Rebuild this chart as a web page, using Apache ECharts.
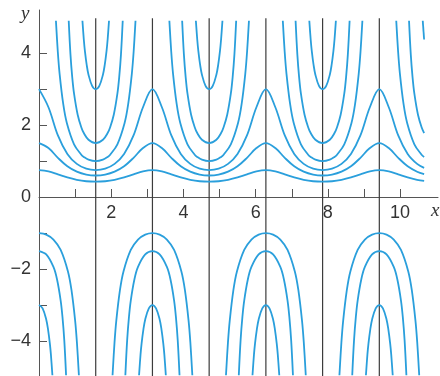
<!DOCTYPE html>
<html>
<head>
<meta charset="utf-8">
<script src="https://cdn.jsdelivr.net/npm/echarts@6/dist/echarts.min.js"></script>
<style>
  html, body { margin: 0; padding: 0; background: #fff; }
  #chart { width: 440px; height: 376px; }
</style>
</head>
<body>
<div id="chart"></div>
<script>
/* ---------- ticks and labels ---------- */
const xTicks  = [1, 2, 3, 4, 5, 6, 7, 8, 9, 10];
const xLabels = [2, 4, 6, 8, 10];
const yTicks  = [-4, -3, -2, -1, 1, 2, 3, 4];
const yLabels = [-4, -2, 0, 2, 4];

// black vertical lines (pi/2 steps)
const asymptotes = [1.5708, 3.1416, 4.7124, 6.2832, 7.854, 9.4248];

/* ---------- bounded waves above the axis ---------- */
const xEnd = 10.67;
const waveX = [0, 0.2618, 0.5236, 0.7854, 1.0472, 1.309, 1.5708, 1.8326, 2.0944, 2.3562, 2.618, 2.8798,
  3.1416, 3.4034, 3.6652, 3.927, 4.1888, 4.4506, 4.7124, 4.9742, 5.236, 5.4978, 5.7596, 6.0214,
  6.2832, 6.545, 6.8068, 7.0686, 7.3304, 7.5922, 7.854, 8.1158, 8.3776, 8.6394, 8.9012, 9.163,
  9.4248, 9.6866, 9.9484, 10.2102, 10.472, 10.666];
const waveLow = [0.75, 0.714, 0.632, 0.545, 0.48, 0.441, 0.429, 0.441, 0.48, 0.545, 0.632, 0.714,
  0.75, 0.714, 0.632, 0.545, 0.48, 0.441, 0.429, 0.441, 0.48, 0.545, 0.632, 0.714,
  0.75, 0.714, 0.632, 0.545, 0.48, 0.441, 0.429, 0.441, 0.48, 0.545, 0.632, 0.714,
  0.75, 0.714, 0.632, 0.545, 0.48, 0.449];
const waveMid = [1.5, 1.363, 1.091, 0.857, 0.706, 0.625, 0.6, 0.625, 0.706, 0.857, 1.091, 1.363,
  1.5, 1.363, 1.091, 0.857, 0.706, 0.625, 0.6, 0.625, 0.706, 0.857, 1.091, 1.363,
  1.5, 1.363, 1.091, 0.857, 0.706, 0.625, 0.6, 0.625, 0.706, 0.857, 1.091, 1.363,
  1.5, 1.363, 1.091, 0.857, 0.706, 0.64];
const waveHigh = [3, 2.498, 1.714, 1.2, 0.923, 0.79, 0.75, 0.79, 0.923, 1.2, 1.714, 2.498,
  3, 2.498, 1.714, 1.2, 0.923, 0.79, 0.75, 0.79, 0.923, 1.2, 1.714, 2.498,
  3, 2.498, 1.714, 1.2, 0.923, 0.79, 0.75, 0.79, 0.923, 1.2, 1.714, 2.498,
  3, 2.498, 1.714, 1.2, 0.923, 0.814];

/* ---------- U branches above the axis (offset from centre, value) ---------- */
const upCentres = [1.5708, 4.7124, 7.854, 10.9956];
const upOff1 = [0, 0.2, 0.33, 0.4, 0.6, 0.8, 0.9, 1.0, 1.05, 1.102];
const upVal1 = [1, 1.041, 1.117, 1.179, 1.468, 2.06, 2.588, 3.426, 4.039, 4.9];
const upOff2 = [0, 0.2, 0.33, 0.4, 0.5, 0.6, 0.65, 0.7, 0.748];
const upVal2 = [1.5, 1.594, 1.78, 1.942, 2.289, 2.875, 3.329, 3.974, 4.9];
const upOff3 = [0, 0.1, 0.2, 0.25, 0.3, 0.33, 0.368];
const upVal3 = [3, 3.092, 3.403, 3.675, 4.065, 4.38, 4.9];

/* ---------- arches below the axis ---------- */
const downCentres = [0, 3.1416, 6.2832, 9.4248];
const dnOff1 = [0, 0.2, 0.4, 0.6, 0.8, 0.9, 1.0, 1.05, 1.105];
const dnVal1 = [-1, -1.041, -1.179, -1.468, -2.06, -2.588, -3.426, -4.039, -4.95];
const dnOff2 = [0, 0.2, 0.4, 0.5, 0.6, 0.65, 0.7, 0.75];
const dnVal2 = [-1.5, -1.594, -1.942, -2.289, -2.875, -3.329, -3.974, -4.95];
const dnOff3 = [0, 0.1, 0.2, 0.25, 0.3, 0.33, 0.371];
const dnVal3 = [-3, -3.092, -3.403, -3.675, -4.065, -4.38, -4.95];

const blue = '#2a9fdc';

function arch(offsets, values, centre) {
  const pts = [];
  for (let i = offsets.length - 1; i > 0; i--) pts.push([centre - offsets[i], values[i]]);
  for (let i = 0; i < offsets.length; i++) pts.push([centre + offsets[i], values[i]]);
  return pts.filter(p => p[0] >= -1e-6 && p[0] <= xEnd);
}

function curve(data) {
  return {
    type: 'line', data: data, showSymbol: false, smooth: 0.35, silent: true, z: 3,
    lineStyle: { color: blue, width: 1.8 }
  };
}

const series = [];

asymptotes.forEach(a => {
  series.push({
    type: 'line', data: [[a, -5], [a, 4.97]], showSymbol: false, silent: true, z: 2,
    lineStyle: { color: '#3c3c3c', width: 1.2 }
  });
});

[waveLow, waveMid, waveHigh].forEach(w => {
  series.push(curve(waveX.map((x, i) => [x, w[i]])));
});

[[upOff1, upVal1], [upOff2, upVal2], [upOff3, upVal3]].forEach(([o, v]) => {
  upCentres.forEach(c => {
    const d = arch(o, v, c);
    if (d.length > 1) series.push(curve(d));
  });
});

[[dnOff1, dnVal1], [dnOff2, dnVal2], [dnOff3, dnVal3]].forEach(([o, v]) => {
  downCentres.forEach(c => {
    const d = arch(o, v, c);
    if (d.length > 1) series.push(curve(d));
  });
});

const labelStyle = { fontFamily: 'Liberation Sans', fontSize: 18, color: '#333' };

// grid: y from -5 to 5.2 over 367px, so y = 0 sits 180px above the bottom edge
const chart = echarts.init(document.getElementById('chart'));
chart.setOption({
  animation: false,
  backgroundColor: '#fff',
  grid: { left: 39, top: 10, width: 399, height: 367, containLabel: false, outerBoundsMode: 'none' },
  xAxis: {
    type: 'value', min: 0, max: 11.05, position: 'bottom', offset: -180,
    axisLine: { onZero: false, lineStyle: { color: '#555', width: 1 } },
    axisTick: { inside: true, length: 8, customValues: xTicks, lineStyle: { color: '#555' } },
    axisLabel: Object.assign({ customValues: xLabels, margin: 7 }, labelStyle),
    splitLine: { show: false }
  },
  yAxis: {
    type: 'value', min: -5, max: 5.2,
    axisLine: { show: true, onZero: false, lineStyle: { color: '#555', width: 1 } },
    axisTick: { show: true, inside: true, length: 8, customValues: yTicks, lineStyle: { color: '#555' } },
    axisLabel: Object.assign({
      customValues: yLabels, margin: 8,
      formatter: v => String(v).replace('-', '\u2212')
    }, labelStyle),
    splitLine: { show: false }
  },
  graphic: [
    { type: 'text', left: 21, top: 4,
      style: { text: 'y', font: 'italic 19px "Liberation Serif"', fill: '#333' } },
    { type: 'text', left: 431, top: 201,
      style: { text: 'x', font: 'italic 19px "Liberation Serif"', fill: '#333' } }
  ],
  series: series
});
</script>
</body>
</html>
